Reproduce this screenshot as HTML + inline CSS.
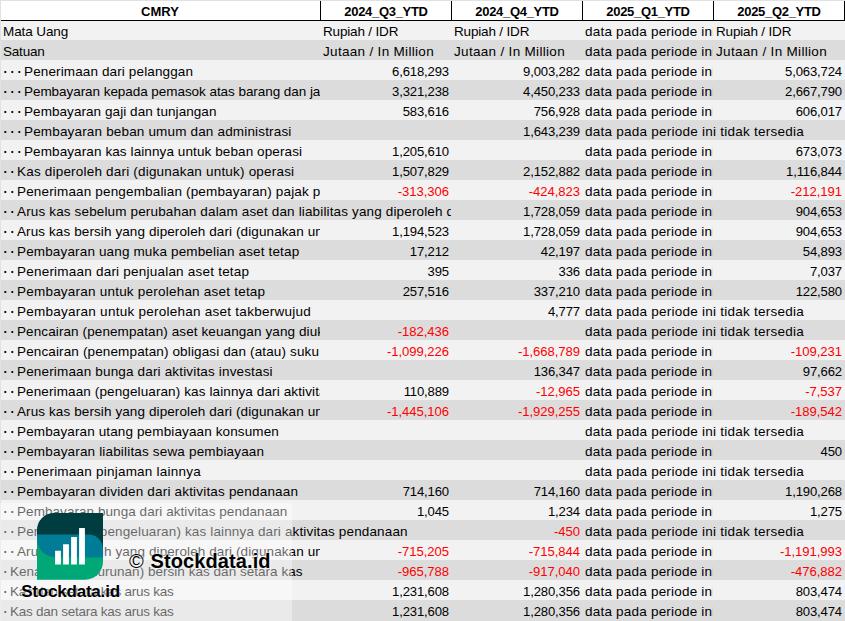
<!DOCTYPE html><html><head><meta charset='utf-8'><title>CMRY</title><style>
html,body{margin:0;padding:0}
body{width:845px;height:621px;overflow:hidden;background:#f2f2f2;position:relative;font-family:"Liberation Sans",sans-serif;color:#000}
#s{position:absolute;left:0;top:0;width:845px;height:621px;overflow:hidden}
.h{position:absolute;left:0;top:0;width:845px;height:20px;background:#fff;border-top:1px solid #e1e1e1;border-bottom:1px solid #000;box-sizing:content-box;height:19px}
.h b{position:absolute;top:1px;height:19px;line-height:19px;text-align:center;font-size:13.0px;font-weight:bold;white-space:nowrap}
.h i{position:absolute;top:0;width:1px;height:20px;background:#000}
.r{position:absolute;left:0;width:845px;height:20px;background:#f2f2f2}
.r.k{background:#dcdcdc}
.c{position:absolute;top:0;height:20px;line-height:20px;font-size:13.5px;white-space:pre;overflow:hidden;box-sizing:border-box;padding:0 2px}
.c>span{position:relative;top:2px}
.n{text-align:right;font-size:13.1px;letter-spacing:-.15px}
.neg{color:#f00;letter-spacing:-.05px}
.d{display:inline-block;width:7px;letter-spacing:0;font-size:18px;line-height:0;text-indent:-.75px;position:relative;top:.9px}
#ov{position:absolute;left:0;top:503px;width:292px;height:118px;background:rgba(255,255,255,.4)}
#lg{position:absolute;left:37px;top:513px;width:66px;height:67px}
#t1{position:absolute;left:20px;top:581px;width:101px;height:22px;line-height:22px;text-align:center;font-size:17px;font-weight:bold;letter-spacing:-.2px;white-space:nowrap;text-shadow:0 0 2px #fff}
#t2{position:absolute;left:129px;top:549px;letter-spacing:.1px;height:24px;line-height:24px;font-size:20px;font-weight:bold;white-space:nowrap;word-spacing:1px;text-shadow:0 0 2px #fff,0 0 3px #fff}
#t2 span{font-weight:normal}
#edge{position:absolute;left:0;top:1px;width:1px;height:620px;background:#e2e2e2}
</style></head><body><div id='s'>
<div class='r' style='top:20px'>
<div class='c' style='left:1px;width:319px;letter-spacing:-0.105px'><span>Mata Uang</span></div>
<div class='c' style='left:321px;width:130px;letter-spacing:-0.166px'><span>Rupiah / IDR</span></div>
<div class='c' style='left:452px;width:130px;letter-spacing:-0.166px'><span>Rupiah / IDR</span></div>
<div class='c' style='left:583px;width:130px;letter-spacing:0.21px'><span>data pada periode ini tidak tersedia</span></div>
<div class='c' style='left:714px;width:130px;letter-spacing:-0.166px'><span>Rupiah / IDR</span></div>
</div>
<div class='r k' style='top:40px'>
<div class='c' style='left:1px;width:319px;letter-spacing:-0.199px'><span>Satuan</span></div>
<div class='c' style='left:321px;width:130px;letter-spacing:0.312px'><span>Jutaan / In Million</span></div>
<div class='c' style='left:452px;width:130px;letter-spacing:0.312px'><span>Jutaan / In Million</span></div>
<div class='c' style='left:583px;width:130px;letter-spacing:0.21px'><span>data pada periode ini tidak tersedia</span></div>
<div class='c' style='left:714px;width:130px;letter-spacing:0.312px'><span>Jutaan / In Million</span></div>
</div>
<div class='r' style='top:60px'>
<div class='c' style='left:1px;width:319px;letter-spacing:0.129px'><span><span class='d'>·</span><span class='d'>·</span><span class='d'>·</span>Penerimaan dari pelanggan</span></div>
<div class='c n' style='left:321px;width:130px'><span>6,618,293</span></div>
<div class='c n' style='left:452px;width:130px'><span>9,003,282</span></div>
<div class='c' style='left:583px;width:130px;letter-spacing:0.21px'><span>data pada periode ini tidak tersedia</span></div>
<div class='c n' style='left:714px;width:130px'><span>5,063,724</span></div>
</div>
<div class='r k' style='top:80px'>
<div class='c' style='left:1px;width:319px;letter-spacing:-0.055px'><span><span class='d'>·</span><span class='d'>·</span><span class='d'>·</span>Pembayaran kepada pemasok atas barang dan jasa</span></div>
<div class='c n' style='left:321px;width:130px'><span>3,321,238</span></div>
<div class='c n' style='left:452px;width:130px'><span>4,450,233</span></div>
<div class='c' style='left:583px;width:130px;letter-spacing:0.21px'><span>data pada periode ini tidak tersedia</span></div>
<div class='c n' style='left:714px;width:130px'><span>2,667,790</span></div>
</div>
<div class='r' style='top:100px'>
<div class='c' style='left:1px;width:319px;letter-spacing:0.064px'><span><span class='d'>·</span><span class='d'>·</span><span class='d'>·</span>Pembayaran gaji dan tunjangan</span></div>
<div class='c n' style='left:321px;width:130px'><span>583,616</span></div>
<div class='c n' style='left:452px;width:130px'><span>756,928</span></div>
<div class='c' style='left:583px;width:130px;letter-spacing:0.21px'><span>data pada periode ini tidak tersedia</span></div>
<div class='c n' style='left:714px;width:130px'><span>606,017</span></div>
</div>
<div class='r k' style='top:120px'>
<div class='c' style='left:1px;width:450px;letter-spacing:0.167px'><span><span class='d'>·</span><span class='d'>·</span><span class='d'>·</span>Pembayaran beban umum dan administrasi</span></div>
<div class='c n' style='left:452px;width:130px'><span>1,643,239</span></div>
<div class='c' style='left:583px;width:261px;letter-spacing:0.246px'><span>data pada periode ini tidak tersedia</span></div>
</div>
<div class='r' style='top:140px'>
<div class='c' style='left:1px;width:319px;letter-spacing:0.099px'><span><span class='d'>·</span><span class='d'>·</span><span class='d'>·</span>Pembayaran kas lainnya untuk beban operasi</span></div>
<div class='c n' style='left:321px;width:130px'><span>1,205,610</span></div>
<div class='c' style='left:583px;width:130px;letter-spacing:0.21px'><span>data pada periode ini tidak tersedia</span></div>
<div class='c n' style='left:714px;width:130px'><span>673,073</span></div>
</div>
<div class='r k' style='top:160px'>
<div class='c' style='left:1px;width:319px;letter-spacing:0.196px'><span><span class='d'>·</span><span class='d'>·</span>Kas diperoleh dari (digunakan untuk) operasi</span></div>
<div class='c n' style='left:321px;width:130px'><span>1,507,829</span></div>
<div class='c n' style='left:452px;width:130px'><span>2,152,882</span></div>
<div class='c' style='left:583px;width:130px;letter-spacing:0.21px'><span>data pada periode ini tidak tersedia</span></div>
<div class='c n' style='left:714px;width:130px'><span>1,116,844</span></div>
</div>
<div class='r' style='top:180px'>
<div class='c' style='left:1px;width:319px;letter-spacing:0.161px'><span><span class='d'>·</span><span class='d'>·</span>Penerimaan pengembalian (pembayaran) pajak penghasilan</span></div>
<div class='c n neg' style='left:321px;width:130px'><span>-313,306</span></div>
<div class='c n neg' style='left:452px;width:130px'><span>-424,823</span></div>
<div class='c' style='left:583px;width:130px;letter-spacing:0.21px'><span>data pada periode ini tidak tersedia</span></div>
<div class='c n neg' style='left:714px;width:130px'><span>-212,191</span></div>
</div>
<div class='r k' style='top:200px'>
<div class='c' style='left:1px;width:450px;letter-spacing:0.148px'><span><span class='d'>·</span><span class='d'>·</span>Arus kas sebelum perubahan dalam aset dan liabilitas yang diperoleh dari</span></div>
<div class='c n' style='left:452px;width:130px'><span>1,728,059</span></div>
<div class='c' style='left:583px;width:130px;letter-spacing:0.21px'><span>data pada periode ini tidak tersedia</span></div>
<div class='c n' style='left:714px;width:130px'><span>904,653</span></div>
</div>
<div class='r' style='top:220px'>
<div class='c' style='left:1px;width:319px;letter-spacing:0.101px'><span><span class='d'>·</span><span class='d'>·</span>Arus kas bersih yang diperoleh dari (digunakan untuk)</span></div>
<div class='c n' style='left:321px;width:130px'><span>1,194,523</span></div>
<div class='c n' style='left:452px;width:130px'><span>1,728,059</span></div>
<div class='c' style='left:583px;width:130px;letter-spacing:0.21px'><span>data pada periode ini tidak tersedia</span></div>
<div class='c n' style='left:714px;width:130px'><span>904,653</span></div>
</div>
<div class='r k' style='top:240px'>
<div class='c' style='left:1px;width:319px;letter-spacing:0.149px'><span><span class='d'>·</span><span class='d'>·</span>Pembayaran uang muka pembelian aset tetap</span></div>
<div class='c n' style='left:321px;width:130px'><span>17,212</span></div>
<div class='c n' style='left:452px;width:130px'><span>42,197</span></div>
<div class='c' style='left:583px;width:130px;letter-spacing:0.21px'><span>data pada periode ini tidak tersedia</span></div>
<div class='c n' style='left:714px;width:130px'><span>54,893</span></div>
</div>
<div class='r' style='top:260px'>
<div class='c' style='left:1px;width:319px;letter-spacing:0.219px'><span><span class='d'>·</span><span class='d'>·</span>Penerimaan dari penjualan aset tetap</span></div>
<div class='c n' style='left:321px;width:130px'><span>395</span></div>
<div class='c n' style='left:452px;width:130px'><span>336</span></div>
<div class='c' style='left:583px;width:130px;letter-spacing:0.21px'><span>data pada periode ini tidak tersedia</span></div>
<div class='c n' style='left:714px;width:130px'><span>7,037</span></div>
</div>
<div class='r k' style='top:280px'>
<div class='c' style='left:1px;width:319px;letter-spacing:0.22px'><span><span class='d'>·</span><span class='d'>·</span>Pembayaran untuk perolehan aset tetap</span></div>
<div class='c n' style='left:321px;width:130px'><span>257,516</span></div>
<div class='c n' style='left:452px;width:130px'><span>337,210</span></div>
<div class='c' style='left:583px;width:130px;letter-spacing:0.21px'><span>data pada periode ini tidak tersedia</span></div>
<div class='c n' style='left:714px;width:130px'><span>122,580</span></div>
</div>
<div class='r' style='top:300px'>
<div class='c' style='left:1px;width:450px;letter-spacing:0.257px'><span><span class='d'>·</span><span class='d'>·</span>Pembayaran untuk perolehan aset takberwujud</span></div>
<div class='c n' style='left:452px;width:130px'><span>4,777</span></div>
<div class='c' style='left:583px;width:261px;letter-spacing:0.246px'><span>data pada periode ini tidak tersedia</span></div>
</div>
<div class='r k' style='top:320px'>
<div class='c' style='left:1px;width:319px;letter-spacing:0.102px'><span><span class='d'>·</span><span class='d'>·</span>Pencairan (penempatan) aset keuangan yang diukur</span></div>
<div class='c n neg' style='left:321px;width:130px'><span>-182,436</span></div>
<div class='c' style='left:583px;width:261px;letter-spacing:0.246px'><span>data pada periode ini tidak tersedia</span></div>
</div>
<div class='r' style='top:340px'>
<div class='c' style='left:1px;width:319px;letter-spacing:0.136px'><span><span class='d'>·</span><span class='d'>·</span>Pencairan (penempatan) obligasi dan (atau) suku bunga</span></div>
<div class='c n neg' style='left:321px;width:130px'><span>-1,099,226</span></div>
<div class='c n neg' style='left:452px;width:130px'><span>-1,668,789</span></div>
<div class='c' style='left:583px;width:130px;letter-spacing:0.21px'><span>data pada periode ini tidak tersedia</span></div>
<div class='c n neg' style='left:714px;width:130px'><span>-109,231</span></div>
</div>
<div class='r k' style='top:360px'>
<div class='c' style='left:1px;width:450px;letter-spacing:0.162px'><span><span class='d'>·</span><span class='d'>·</span>Penerimaan bunga dari aktivitas investasi</span></div>
<div class='c n' style='left:452px;width:130px'><span>136,347</span></div>
<div class='c' style='left:583px;width:130px;letter-spacing:0.21px'><span>data pada periode ini tidak tersedia</span></div>
<div class='c n' style='left:714px;width:130px'><span>97,662</span></div>
</div>
<div class='r' style='top:380px'>
<div class='c' style='left:1px;width:319px;letter-spacing:0.114px'><span><span class='d'>·</span><span class='d'>·</span>Penerimaan (pengeluaran) kas lainnya dari aktivitas</span></div>
<div class='c n' style='left:321px;width:130px'><span>110,889</span></div>
<div class='c n neg' style='left:452px;width:130px'><span>-12,965</span></div>
<div class='c' style='left:583px;width:130px;letter-spacing:0.21px'><span>data pada periode ini tidak tersedia</span></div>
<div class='c n neg' style='left:714px;width:130px'><span>-7,537</span></div>
</div>
<div class='r k' style='top:400px'>
<div class='c' style='left:1px;width:319px;letter-spacing:0.101px'><span><span class='d'>·</span><span class='d'>·</span>Arus kas bersih yang diperoleh dari (digunakan untuk)</span></div>
<div class='c n neg' style='left:321px;width:130px'><span>-1,445,106</span></div>
<div class='c n neg' style='left:452px;width:130px'><span>-1,929,255</span></div>
<div class='c' style='left:583px;width:130px;letter-spacing:0.21px'><span>data pada periode ini tidak tersedia</span></div>
<div class='c n neg' style='left:714px;width:130px'><span>-189,542</span></div>
</div>
<div class='r' style='top:420px'>
<div class='c' style='left:1px;width:450px;letter-spacing:0.127px'><span><span class='d'>·</span><span class='d'>·</span>Pembayaran utang pembiayaan konsumen</span></div>
<div class='c' style='left:583px;width:261px;letter-spacing:0.246px'><span>data pada periode ini tidak tersedia</span></div>
</div>
<div class='r k' style='top:440px'>
<div class='c' style='left:1px;width:450px;letter-spacing:0.171px'><span><span class='d'>·</span><span class='d'>·</span>Pembayaran liabilitas sewa pembiayaan</span></div>
<div class='c' style='left:583px;width:130px;letter-spacing:0.21px'><span>data pada periode ini tidak tersedia</span></div>
<div class='c n' style='left:714px;width:130px'><span>450</span></div>
</div>
<div class='r' style='top:460px'>
<div class='c' style='left:1px;width:450px;letter-spacing:0.223px'><span><span class='d'>·</span><span class='d'>·</span>Penerimaan pinjaman lainnya</span></div>
<div class='c' style='left:583px;width:261px;letter-spacing:0.246px'><span>data pada periode ini tidak tersedia</span></div>
</div>
<div class='r k' style='top:480px'>
<div class='c' style='left:1px;width:319px;letter-spacing:0.186px'><span><span class='d'>·</span><span class='d'>·</span>Pembayaran dividen dari aktivitas pendanaan</span></div>
<div class='c n' style='left:321px;width:130px'><span>714,160</span></div>
<div class='c n' style='left:452px;width:130px'><span>714,160</span></div>
<div class='c' style='left:583px;width:130px;letter-spacing:0.21px'><span>data pada periode ini tidak tersedia</span></div>
<div class='c n' style='left:714px;width:130px'><span>1,190,268</span></div>
</div>
<div class='r' style='top:500px'>
<div class='c' style='left:1px;width:319px;letter-spacing:0.06px'><span><span class='d'>·</span><span class='d'>·</span>Pembayaran bunga dari aktivitas pendanaan</span></div>
<div class='c n' style='left:321px;width:130px'><span>1,045</span></div>
<div class='c n' style='left:452px;width:130px'><span>1,234</span></div>
<div class='c' style='left:583px;width:130px;letter-spacing:0.21px'><span>data pada periode ini tidak tersedia</span></div>
<div class='c n' style='left:714px;width:130px'><span>1,275</span></div>
</div>
<div class='r k' style='top:520px'>
<div class='c' style='left:1px;width:450px;letter-spacing:0.143px'><span><span class='d'>·</span><span class='d'>·</span>Penerimaan (pengeluaran) kas lainnya dari aktivitas pendanaan</span></div>
<div class='c n neg' style='left:452px;width:130px'><span>-450</span></div>
<div class='c' style='left:583px;width:261px;letter-spacing:0.246px'><span>data pada periode ini tidak tersedia</span></div>
</div>
<div class='r' style='top:540px'>
<div class='c' style='left:1px;width:319px;letter-spacing:0.101px'><span><span class='d'>·</span><span class='d'>·</span>Arus kas bersih yang diperoleh dari (digunakan untuk)</span></div>
<div class='c n neg' style='left:321px;width:130px'><span>-715,205</span></div>
<div class='c n neg' style='left:452px;width:130px'><span>-715,844</span></div>
<div class='c' style='left:583px;width:130px;letter-spacing:0.21px'><span>data pada periode ini tidak tersedia</span></div>
<div class='c n neg' style='left:714px;width:130px'><span>-1,191,993</span></div>
</div>
<div class='r k' style='top:560px'>
<div class='c' style='left:1px;width:319px;letter-spacing:0.029px'><span><span class='d'>·</span>Kenaikan (penurunan) bersih kas dan setara kas</span></div>
<div class='c n neg' style='left:321px;width:130px'><span>-965,788</span></div>
<div class='c n neg' style='left:452px;width:130px'><span>-917,040</span></div>
<div class='c' style='left:583px;width:130px;letter-spacing:0.21px'><span>data pada periode ini tidak tersedia</span></div>
<div class='c n neg' style='left:714px;width:130px'><span>-476,882</span></div>
</div>
<div class='r' style='top:580px'>
<div class='c' style='left:1px;width:319px;letter-spacing:-0.253px'><span><span class='d'>·</span>Kas dan setara kas arus kas</span></div>
<div class='c n' style='left:321px;width:130px'><span>1,231,608</span></div>
<div class='c n' style='left:452px;width:130px'><span>1,280,356</span></div>
<div class='c' style='left:583px;width:130px;letter-spacing:0.21px'><span>data pada periode ini tidak tersedia</span></div>
<div class='c n' style='left:714px;width:130px'><span>803,474</span></div>
</div>
<div class='r k' style='top:600px;height:21px'>
<div class='c' style='left:1px;width:319px;letter-spacing:-0.253px'><span><span class='d'>·</span>Kas dan setara kas arus kas</span></div>
<div class='c n' style='left:321px;width:130px'><span>1,231,608</span></div>
<div class='c n' style='left:452px;width:130px'><span>1,280,356</span></div>
<div class='c' style='left:583px;width:130px;letter-spacing:0.21px'><span>data pada periode ini tidak tersedia</span></div>
<div class='c n' style='left:714px;width:130px'><span>803,474</span></div>
</div>
<div class='h'>
<b style='left:0px;width:320px;letter-spacing:0px'>CMRY</b>
<b style='left:321px;width:130px;letter-spacing:-0.3px'>2024_Q3_YTD</b>
<b style='left:452px;width:130px;letter-spacing:-0.3px'>2024_Q4_YTD</b>
<b style='left:583px;width:130px;letter-spacing:-0.3px'>2025_Q1_YTD</b>
<b style='left:714px;width:130px;letter-spacing:-0.3px'>2025_Q2_YTD</b>
<i style='left:320px'></i>
<i style='left:451px'></i>
<i style='left:582px'></i>
<i style='left:713px'></i>
<i style='left:844px'></i>
</div>
<div id='edge'></div>
<div id='ov'></div>
<svg id='lg' viewBox='0 0 66 67'>
<path d='M0 22V17A17 17 0 0 1 17 0H66V45H30V22Z' fill='#003d40'/>
<path d='M0 22H40V44H66V48.7A18 18 0 0 1 48 66.7H0Z' fill='#00a878'/>
<path d='M0 21.6H51.6A14.4 14.4 0 0 1 66 36V44.5H19A19 19 0 0 1 0 25.5Z' fill='#007c96'/>
<path d='M18.1 37.7h5.8V51.6h-5.8zM26.1 31.3h5.8V51.6h-5.8zM34.1 23.9h5.8V51.6h-5.8zM42.1 14.9h5.8V51.6h-5.8z' fill='#fff'/>
</svg>
<div id='t1'>Stockdata.id</div>
<div id='t2'><span>©</span> Stockdata.id</div>
</div></body></html>
